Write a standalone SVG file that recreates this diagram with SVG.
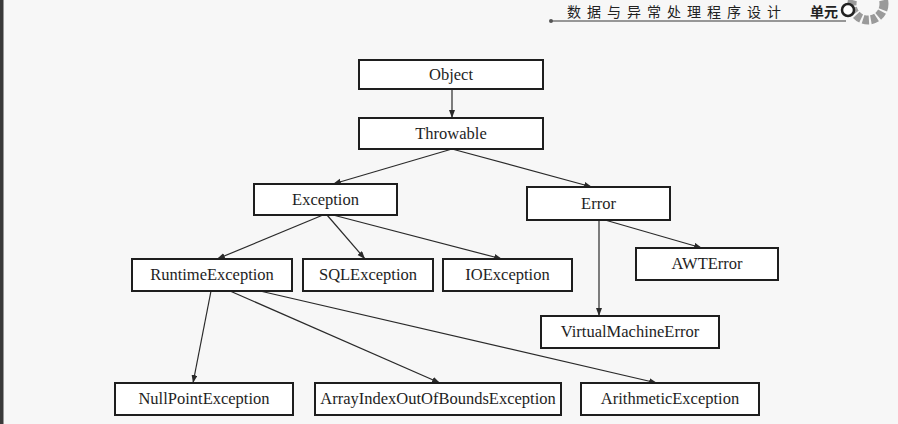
<svg xmlns="http://www.w3.org/2000/svg" width="898" height="424" viewBox="0 0 898 424">
<defs>
<marker id="arr" markerUnits="userSpaceOnUse" markerWidth="9" markerHeight="7" refX="8" refY="3" orient="auto">
<path d="M0,0 L8,3 L0,6 z" fill="#2a2a2a"/>
</marker>
<style>
.box{fill:#ffffff;stroke:#1e1e1e;stroke-width:2}
.lbl{font-family:"Liberation Serif","Times New Roman",serif;font-size:16.5px;fill:#1e1e1e;text-anchor:middle}
.con line{stroke:#2a2a2a;stroke-width:1.2;marker-end:url(#arr)}
.hdr{font-family:"Noto Sans CJK SC",sans-serif;fill:#222}
</style>
</defs>
<rect x="0" y="0" width="898" height="424" fill="#f7f7f7"/>
<rect x="0" y="0" width="3.5" height="424" fill="#3a3a3a"/>
<g id="header">
<text class="hdr" x="567" y="17" font-size="14" letter-spacing="6">数据与异常处理程序设计</text>
<text class="hdr" x="810" y="17" font-size="14" font-weight="bold">单元</text>
<line x1="551" y1="21" x2="846" y2="21" stroke="#777" stroke-width="1.5"/>
<circle cx="551" cy="21" r="2" fill="#555"/>
<circle cx="868" cy="4" r="16" fill="none" stroke="#9a9a9a" stroke-width="9" stroke-dasharray="6 2"/>
<circle cx="848" cy="10" r="6" fill="#fff" stroke="#222" stroke-width="2.5"/>
</g>
<g class="con" id="connectors">
<line x1="452" y1="89" x2="452" y2="118"/>
<line x1="452" y1="149" x2="333" y2="184"/>
<line x1="452" y1="149" x2="592" y2="187"/>
<line x1="323" y1="215" x2="217" y2="259"/>
<line x1="327" y1="215" x2="365" y2="259"/>
<line x1="333" y1="215" x2="502" y2="259"/>
<line x1="599" y1="220" x2="599" y2="316"/>
<line x1="605" y1="220" x2="702" y2="248"/>
<line x1="211" y1="291" x2="193" y2="383"/>
<line x1="230" y1="291" x2="440" y2="383"/>
<line x1="260" y1="291" x2="657" y2="383"/>
</g>
<g id="object"><rect class="box" x="359" y="60" width="184" height="29"/><text class="lbl" x="451" y="80">Object</text></g>
<g id="throwable"><rect class="box" x="359" y="118" width="184" height="31"/><text class="lbl" x="451" y="139">Throwable</text></g>
<g id="exception"><rect class="box" x="254" y="184" width="143" height="31"/><text class="lbl" x="325.5" y="205">Exception</text></g>
<g id="error"><rect class="box" x="527" y="187" width="143" height="33"/><text class="lbl" x="598.5" y="209">Error</text></g>
<g id="runtimeexception"><rect class="box" x="132" y="259" width="160" height="32"/><text class="lbl" x="212" y="280">RuntimeException</text></g>
<g id="sqlexception"><rect class="box" x="303" y="259" width="130" height="32"/><text class="lbl" x="368" y="280">SQLException</text></g>
<g id="ioexception"><rect class="box" x="443" y="259" width="129" height="32"/><text class="lbl" x="507.5" y="280">IOException</text></g>
<g id="awterror"><rect class="box" x="636" y="248" width="142" height="32"/><text class="lbl" x="707" y="269">AWTError</text></g>
<g id="virtualmachineerror"><rect class="box" x="541" y="316" width="178" height="32"/><text class="lbl" x="630" y="337">VirtualMachineError</text></g>
<g id="nullpointexception"><rect class="box" x="115" y="383" width="178" height="32"/><text class="lbl" x="204" y="404">NullPointException</text></g>
<g id="arrayindexoutofboundsexception"><rect class="box" x="315" y="383" width="246" height="32"/><text class="lbl" x="438" y="404">ArrayIndexOutOfBoundsException</text></g>
<g id="arithmeticexception"><rect class="box" x="581" y="383" width="178" height="32"/><text class="lbl" x="670" y="404">ArithmeticException</text></g>
</svg>
